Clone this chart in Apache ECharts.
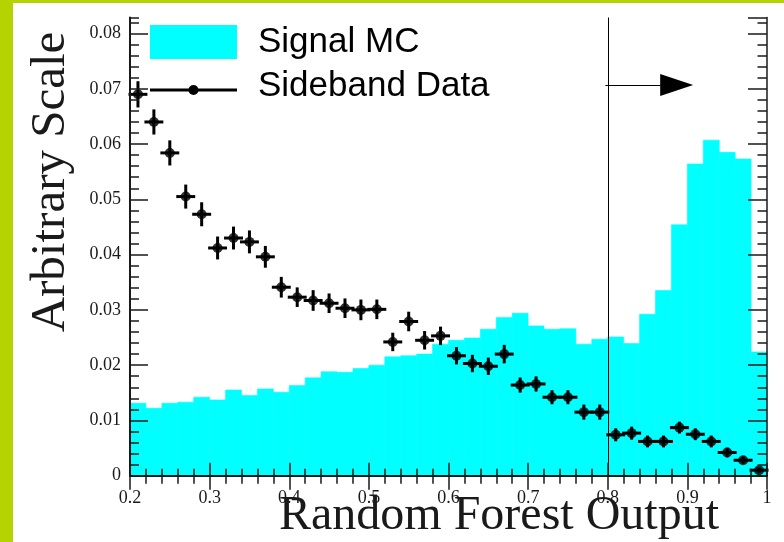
<!DOCTYPE html>
<html>
<head>
<meta charset="UTF-8">
<title>Random Forest Output</title>
<script type="text/javascript" src="https://cdn.jsdelivr.net/npm/echarts@6/dist/echarts.min.js"></script>
<style>
  html, body { margin: 0; padding: 0; background: #fff; }
</style>
</head>
<body>
<div id="chartmain" style="width: 784px; height: 542px;"></div>
<script type="text/javascript">
// bin lower edges (40 bins, width 0.02)
var binLo = [0.20, 0.22, 0.24, 0.26, 0.28, 0.30, 0.32, 0.34, 0.36, 0.38,
             0.40, 0.42, 0.44, 0.46, 0.48, 0.50, 0.52, 0.54, 0.56, 0.58,
             0.60, 0.62, 0.64, 0.66, 0.68, 0.70, 0.72, 0.74, 0.76, 0.78,
             0.80, 0.82, 0.84, 0.86, 0.88, 0.90, 0.92, 0.94, 0.96, 0.98];
var binWidth = 0.02;

// Signal MC histogram
var signalMC = [0.0131, 0.0122, 0.0131, 0.0133, 0.0142, 0.0137, 0.0155, 0.0145, 0.0157, 0.0151,
                0.0163, 0.0177, 0.0188, 0.0187, 0.0194, 0.0200, 0.0215, 0.0217, 0.0220, 0.0238,
                0.0245, 0.0249, 0.0265, 0.0286, 0.0294, 0.0271, 0.0265, 0.0266, 0.0238, 0.0247,
                0.0251, 0.0239, 0.0292, 0.0335, 0.0454, 0.0564, 0.0607, 0.0585, 0.0573, 0.0224];

// Sideband data points and their errors
var sideband = [0.0690, 0.0640, 0.0584, 0.0505, 0.0473, 0.0412, 0.0430, 0.0423, 0.0396, 0.0341,
                0.0323, 0.0317, 0.0312, 0.0303, 0.0300, 0.0301, 0.0242, 0.0279, 0.0245, 0.0253,
                0.0217, 0.0203, 0.0198, 0.0220, 0.0164, 0.0166, 0.0142, 0.0142, 0.0115, 0.0115,
                0.0074, 0.0077, 0.0062, 0.0062, 0.0087, 0.0075, 0.0062, 0.0042, 0.0028, 0.0010];
var sidebandErr = [0.0021, 0.0020, 0.0020, 0.0019, 0.0019, 0.0018, 0.0018, 0.0018, 0.0017, 0.0016,
                   0.0015, 0.0016, 0.0015, 0.0015, 0.0016, 0.0015, 0.0014, 0.0015, 0.0014, 0.0014,
                   0.0013, 0.0013, 0.0013, 0.0014, 0.0011, 0.0011, 0.0010, 0.0010, 0.0011, 0.0011,
                   0.0009, 0.0009, 0.0008, 0.0008, 0.0008, 0.0008, 0.0008, 0.0006, 0.0004, 0.0002];

var xTicks = [0.2, 0.3, 0.4, 0.5, 0.6, 0.7, 0.8, 0.9, 1];
var yTicks = [0, 0.01, 0.02, 0.03, 0.04, 0.05, 0.06, 0.07, 0.08];
var cutValue = 0.797;
var arrowY = 0.0707;
var arrowEnd = 0.8866;

var serif = 'Liberation Serif';
var sans = 'Liberation Sans';
var ink = '#1a1a1a';
var cyan = '#00ffff';

var histData = binLo.map(function (lo, i) { return [lo, lo + binWidth, signalMC[i]]; });
var pointData = binLo.map(function (lo, i) { return [lo + binWidth / 2, sideband[i]]; });
var errData = binLo.map(function (lo, i) { return [lo, lo + binWidth, sideband[i], sidebandErr[i]]; });

function xFmt(v) {
	for (var i = 0; i < xTicks.length; i++) {
		if (Math.abs(v - xTicks[i]) < 1e-6) return String(xTicks[i]);
	}
	return '';
}
function yFmt(v) {
	for (var i = 0; i < yTicks.length; i++) {
		if (Math.abs(v - yTicks[i]) < 1e-7) return String(yTicks[i]);
	}
	return '';
}

var tickStyle = { color: ink, width: 1.5 };

var myChart = echarts.init(document.getElementById('chartmain'));
myChart.setOption({
	animation: false,
	backgroundColor: '#ffffff',
	grid: { left: 130, right: 17, top: 17.5, bottom: 66.3, outerBoundsMode: 'none', containLabel: false },
	xAxis: [
		{
			type: 'value', min: 0.2, max: 1.0, interval: 0.1, position: 'bottom', z: 10,
			splitLine: { show: false },
			axisLine: { lineStyle: { color: ink, width: 2 } },
			axisTick: { inside: true, length: 13, lineStyle: tickStyle },
			minorTick: { show: true, splitNumber: 5, length: 7, lineStyle: tickStyle },
			axisLabel: { fontFamily: serif, fontSize: 18, color: ink, margin: 14, formatter: xFmt }
		},
		{
			type: 'value', min: 0.2, max: 1.0, interval: 0.1, position: 'top', z: 10,
			splitLine: { show: false },
			axisLine: { lineStyle: { color: ink, width: 1.5 } },
			axisTick: { inside: true, length: 14, lineStyle: tickStyle },
			minorTick: { show: true, splitNumber: 5, length: 8, lineStyle: tickStyle },
			axisLabel: { show: false }
		}
	],
	yAxis: [
		{
			type: 'value', min: 0, max: 0.0829, interval: 0.01, position: 'left', z: 10,
			splitLine: { show: false },
			axisLine: { show: true, lineStyle: { color: ink, width: 2 } },
			axisTick: { inside: true, length: 18, lineStyle: tickStyle },
			axisLabel: { fontFamily: serif, fontSize: 18, color: ink, margin: 9, formatter: yFmt, showMaxLabel: false }
		},
		{
			type: 'value', min: 0, max: 0.0829, interval: 0.002, position: 'left', z: 10,
			splitLine: { show: false },
			axisLine: { show: false },
			axisTick: { inside: true, length: 9, lineStyle: tickStyle },
			axisLabel: { show: false }
		},
		{
			type: 'value', min: 0, max: 0.0829, interval: 0.01, position: 'right', z: 10,
			splitLine: { show: false },
			axisLine: { show: true, lineStyle: { color: ink, width: 1.5 } },
			axisTick: { inside: true, length: 19, lineStyle: tickStyle },
			axisLabel: { show: false }
		},
		{
			type: 'value', min: 0, max: 0.0829, interval: 0.002, position: 'right', z: 10,
			splitLine: { show: false },
			axisLine: { show: false },
			axisTick: { inside: true, length: 9.5, lineStyle: tickStyle },
			axisLabel: { show: false }
		}
	],
	series: [
		{
			name: 'Signal MC',
			type: 'custom',
			xAxisIndex: 0, yAxisIndex: 0,
			z: 2,
			itemStyle: { color: cyan },
			encode: { x: [0, 1], y: 2 },
			renderItem: function (params, api) {
				var p0 = api.coord([api.value(0), api.value(2)]);
				var p1 = api.coord([api.value(1), 0]);
				return {
					type: 'rect',
					shape: { x: p0[0], y: p0[1], width: p1[0] - p0[0], height: p1[1] - p0[1] },
					style: { fill: cyan, stroke: cyan, lineWidth: 0.6 }
				};
			},
			data: histData
		},
		{
			name: 'errors',
			type: 'custom',
			xAxisIndex: 0, yAxisIndex: 0,
			z: 3,
			encode: { x: [0, 1], y: 2 },
			renderItem: function (params, api) {
				var lo = api.value(0), hi = api.value(1), v = api.value(2), e = api.value(3);
				var mid = (lo + hi) / 2;
				var a = api.coord([lo, v]), b = api.coord([hi, v]);
				var c = api.coord([mid, v - e]), d = api.coord([mid, v + e]);
				var st = { stroke: '#000', lineWidth: 3, lineCap: 'square' };
				return {
					type: 'group',
					children: [
						{ type: 'line', shape: { x1: a[0], y1: a[1], x2: b[0], y2: b[1] }, style: st },
						{ type: 'line', shape: { x1: c[0], y1: c[1], x2: d[0], y2: d[1] }, style: st }
					]
				};
			},
			data: errData
		},
		{
			name: 'Sideband Data',
			type: 'scatter',
			xAxisIndex: 0, yAxisIndex: 0,
			z: 4,
			symbol: 'circle',
			symbolSize: 10,
			itemStyle: { color: '#000' },
			data: pointData,
			markLine: {
				silent: true,
				symbol: ['none', 'none'],
				label: { show: false },
				lineStyle: { color: '#000', width: 1, type: 'solid' },
				data: [
					{ xAxis: cutValue },
					[
						{ coord: [cutValue, arrowY], symbol: 'none' },
						{ coord: [arrowEnd, arrowY], symbol: 'triangle', symbolSize: [22, 33] }
					]
				]
			}
		}
	],
	graphic: [
		{ type: 'rect', left: 0, top: 0, shape: { width: 13, height: 542 }, style: { fill: '#b5d300' }, z: 100 },
		{ type: 'rect', left: 0, top: 0, shape: { width: 784, height: 3 }, style: { fill: '#b5d300' }, z: 100 },
		// legend
		{ type: 'rect', shape: { x: 150, y: 25, width: 87, height: 34 }, style: { fill: cyan }, z: 100 },
		{ type: 'line', shape: { x1: 150, y1: 90, x2: 237, y2: 90 }, style: { stroke: '#000', lineWidth: 3 }, z: 100 },
		{ type: 'circle', shape: { cx: 193.5, cy: 90, r: 5 }, style: { fill: '#000' }, z: 100 },
		{
			type: 'text', x: 258, y: 42, z: 100,
			style: { text: 'Signal MC', fontFamily: sans, fontSize: 35, fill: '#000', align: 'left', verticalAlign: 'middle' }
		},
		{
			type: 'text', x: 258, y: 86, z: 100,
			style: { text: 'Sideband Data', fontFamily: sans, fontSize: 35, fill: '#000', align: 'left', verticalAlign: 'middle' }
		},
		// axis titles
		{
			type: 'text', x: 51, y: 182, rotation: Math.PI / 2, z: 100,
			style: { text: 'Arbitrary Scale', fontFamily: serif, fontSize: 49, fill: ink, align: 'center', verticalAlign: 'middle' }
		},
		{
			type: 'text', x: 719, y: 516, z: 100,
			style: { text: 'Random Forest Output', fontFamily: serif, fontSize: 48, fill: ink, align: 'right', verticalAlign: 'middle' }
		}
	]
});
</script>
</body>
</html>
